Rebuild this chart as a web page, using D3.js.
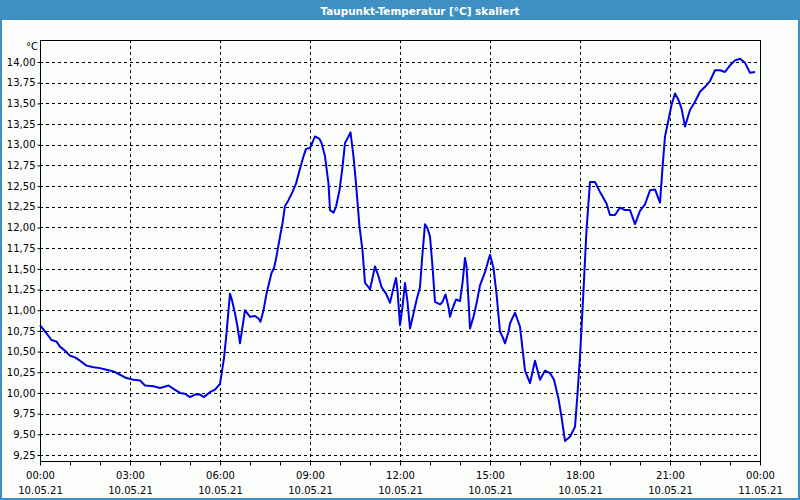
<!DOCTYPE html>
<html>
<head>
<meta charset="utf-8">
<script src="https://cdn.jsdelivr.net/npm/d3@7"></script>
<style>
  html, body { margin: 0; padding: 0; background: #fcfefc; }
  svg { display: block; }
  text { font-family: "DejaVu Sans", Verdana, sans-serif; }
</style>
</head>
<body>
<svg id="chart" width="800" height="500"></svg>
<script>
// ---------- data ----------
const title = "Taupunkt-Temperatur [°C] skaliert";
const unitLabel = "°C";
// minutes since 10.05.21 00:00
const minutes = [0,13,23,33,40,50,60,70,80,93,107,120,133,147,160,173,187,200,210,227,240,257,267,280,290,300,310,320,328,340,350,360,368,373,380,384,390,395,400,405,410,420,430,437,441,447,453,463,468,473,480,485,490,497,505,512,519,527,532,540,550,559,563,570,577,580,587,592,599,605,610,617,621,627,632,639,645,650,657,660,670,677,683,692,700,707,712,715,720,725,730,735,740,747,753,760,764,770,775,780,785,790,800,805,811,817,820,825,832,840,845,850,853,857,860,867,873,880,890,900,907,913,920,925,930,937,940,950,960,970,980,990,1000,1010,1020,1028,1037,1043,1050,1060,1070,1075,1080,1087,1093,1100,1110,1120,1133,1140,1150,1160,1170,1180,1190,1200,1210,1220,1230,1240,1245,1250,1257,1263,1270,1277,1283,1290,1300,1310,1320,1330,1340,1350,1360,1370,1380,1390,1400,1410,1420,1430];
const values = [10.82,10.72,10.64,10.62,10.56,10.51,10.45,10.43,10.39,10.33,10.31,10.30,10.28,10.26,10.22,10.18,10.16,10.15,10.09,10.08,10.06,10.09,10.05,10.00,9.99,9.95,9.98,9.98,9.95,10.01,10.04,10.11,10.42,10.72,11.20,11.12,10.96,10.80,10.60,10.80,11.00,10.92,10.93,10.90,10.86,11.00,11.20,11.45,11.51,11.65,11.89,12.05,12.26,12.33,12.43,12.53,12.69,12.86,12.95,12.96,13.10,13.07,13.02,12.86,12.53,12.21,12.18,12.25,12.45,12.73,13.02,13.10,13.15,12.86,12.53,12.01,11.72,11.33,11.28,11.25,11.53,11.41,11.28,11.20,11.09,11.27,11.39,11.24,10.82,11.04,11.33,11.10,10.78,10.96,11.12,11.28,11.61,12.04,11.99,11.89,11.53,11.10,11.07,11.10,11.19,11.04,10.92,11.02,11.13,11.11,11.33,11.63,11.53,11.12,10.78,10.92,11.08,11.30,11.46,11.67,11.51,11.20,10.74,10.68,10.60,10.74,10.84,10.97,10.80,10.27,10.12,10.39,10.16,10.27,10.24,10.16,9.93,9.71,9.42,9.47,9.59,9.99,10.44,11.24,11.97,12.55,12.55,12.43,12.29,12.15,12.15,12.24,12.21,12.21,12.04,12.20,12.28,12.45,12.46,12.30,12.72,13.10,13.30,13.48,13.62,13.54,13.44,13.22,13.42,13.52,13.64,13.70,13.77,13.90,13.90,13.88,13.96,14.02,14.04,13.99,13.87,13.88];
const yTicks = [9.25,9.5,9.75,10,10.25,10.5,10.75,11,11.25,11.5,11.75,12,12.25,12.5,12.75,13,13.25,13.5,13.75,14];
const startDate = new Date(2021, 4, 10, 0, 0);
const endDate = new Date(2021, 4, 11, 0, 0);

// ---------- layout ----------
const W = 800, H = 500;
const plot = { left: 40, right: 760, top: 40, bottom: 461 };
const svg = d3.select("#chart");

// background + outer frame + title bar
svg.append("rect").attr("x", 0).attr("y", 0).attr("width", W).attr("height", H).attr("fill", "#fcfefc");
svg.append("rect").attr("x", 1).attr("y", 1).attr("width", W - 2).attr("height", H - 2)
  .attr("fill", "none").attr("stroke", "#3d8fc4").attr("stroke-width", 2);
svg.append("rect").attr("x", 0).attr("y", 0).attr("width", W).attr("height", 20).attr("fill", "#3d8fc4");
svg.append("text").attr("x", 420).attr("y", 15).attr("text-anchor", "middle")
  .attr("fill", "#ffffff").attr("font-size", "11px").attr("font-weight", "bold")
  .attr("textLength", 199).attr("lengthAdjust", "spacingAndGlyphs")
  .text(title);

// ---------- scales ----------
const x = d3.scaleTime().domain([startDate, endDate]).range([plot.left, plot.right]);
const y = d3.scaleLinear().domain([9.25, 14]).range([455, 62]);

// gridlines
const gx = d3.timeHour.every(3).range(startDate, endDate).slice(1);
svg.append("g").selectAll("line").data(gx).join("line")
  .attr("x1", d => Math.round(x(d)) + 0.5).attr("x2", d => Math.round(x(d)) + 0.5)
  .attr("y1", plot.top).attr("y2", plot.bottom)
  .attr("stroke", "#000").attr("stroke-width", 1).attr("stroke-dasharray", "3,3");
svg.append("g").selectAll("line").data(yTicks).join("line")
  .attr("x1", plot.left).attr("x2", plot.right)
  .attr("y1", d => Math.round(y(d)) + 0.5).attr("y2", d => Math.round(y(d)) + 0.5)
  .attr("stroke", "#000").attr("stroke-width", 1).attr("stroke-dasharray", "3,3");

// axes
const fmtNum = d => d3.format(".2f")(d).replace(".", ",");
const yAxis = d3.axisLeft(y).tickValues(yTicks).tickFormat(fmtNum).tickSize(3).tickPadding(2);
const gy = svg.append("g").attr("transform", `translate(${plot.left + 0.5},0)`).call(yAxis);
gy.select(".domain").remove();
gy.selectAll("text").attr("font-size", "10px").attr("fill", "#000");

const xAxisMinor = d3.axisBottom(x).ticks(d3.timeHour.every(1)).tickFormat("").tickSize(4);
const gxm = svg.append("g").attr("transform", `translate(0,${plot.bottom + 0.5})`).call(xAxisMinor);
gxm.select(".domain").remove();

const xAxis = d3.axisBottom(x).ticks(d3.timeHour.every(3)).tickSize(0).tickPadding(11)
  .tickFormat(d3.timeFormat("%H:%M"));
const gxa = svg.append("g").attr("transform", `translate(0,${plot.bottom})`).call(xAxis);
gxa.select(".domain").remove();
gxa.selectAll("text").attr("font-size", "10px").attr("fill", "#000")
  .each(function(d) {
    const t = d3.select(this);
    t.append("tspan").attr("x", 0).attr("dy", "1.5em").text(d3.timeFormat("%d.%m.%y")(d));
  });

// plot frame
svg.append("rect").attr("x", plot.left + 0.5).attr("y", plot.top + 0.5)
  .attr("width", plot.right - plot.left).attr("height", plot.bottom - plot.top)
  .attr("fill", "none").attr("stroke", "#000").attr("stroke-width", 1);

svg.append("text").attr("x", 38).attr("y", 50).attr("text-anchor", "end")
  .attr("font-size", "10px").attr("fill", "#000").text(unitLabel);

// line
const data = minutes.map((m, i) => ({ t: d3.timeMinute.offset(startDate, m), v: values[i] }));
const line = d3.line().x(d => x(d.t)).y(d => y(d.v));
svg.append("path").datum(data).attr("d", line)
  .attr("fill", "none").attr("stroke", "#0000e6").attr("stroke-width", 2)
  .attr("stroke-linejoin", "round");
</script>
</body>
</html>
